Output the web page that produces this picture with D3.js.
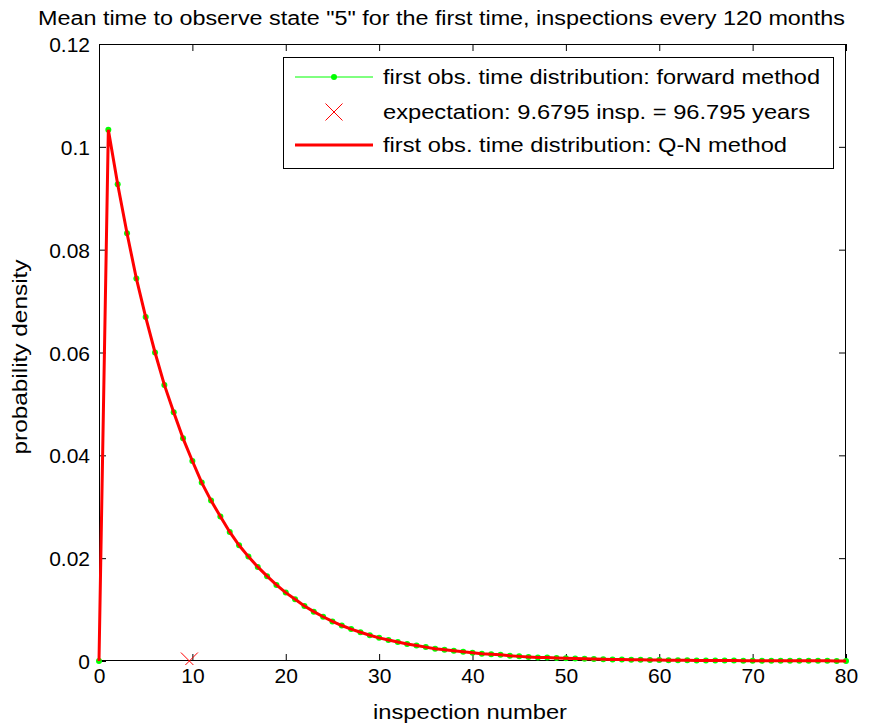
<!DOCTYPE html>
<html>
<head>
<meta charset="utf-8">
<script src="https://cdn.jsdelivr.net/npm/d3@7/dist/d3.min.js"></script>
<style>
  html, body { margin: 0; padding: 0; background: #fff; }
  svg { display: block; }
  text { font-family: "Liberation Sans", Arial, Helvetica, sans-serif; fill: #000; }
</style>
</head>
<body>
<svg id="chart" width="880" height="727"></svg>
<script>
// ---------------- data ----------------
const titleText = 'Mean time to observe state "5" for the first time, inspections every 120 months';
const xLabelText = "inspection number";
const yLabelText = "probability density";
const legendLabels = [
  "first obs. time distribution: forward method",
  "expectation: 9.6795 insp. = 96.795 years",
  "first obs. time distribution: Q-N method"
];
const xTicks = [0, 10, 20, 30, 40, 50, 60, 70, 80];
const xTickLabels = ["0", "10", "20", "30", "40", "50", "60", "70", "80"];
const yTicks = [0, 0.02, 0.04, 0.06, 0.08, 0.1, 0.12];
const yTickLabels = ["0", "0.02", "0.04", "0.06", "0.08", "0.1", "0.12"];

// inspection numbers 0..80
const inspection = [
  0,1,2,3,4,5,6,7,8,9,10,11,12,13,14,15,16,17,18,19,20,
  21,22,23,24,25,26,27,28,29,30,31,32,33,34,35,36,37,38,39,40,
  41,42,43,44,45,46,47,48,49,50,51,52,53,54,55,56,57,58,59,60,
  61,62,63,64,65,66,67,68,69,70,71,72,73,74,75,76,77,78,79,80
];
// forward method density (green)
const forwardDensity = [
  0, 0.1033, 0.0927, 0.0832, 0.0744, 0.0669, 0.0600, 0.0537, 0.0484, 0.0433, 0.0389,
  0.0347, 0.0312, 0.0281, 0.0251, 0.0225, 0.0203, 0.0183, 0.0165, 0.0148, 0.0133,
  0.0120, 0.0107, 0.0096, 0.0086, 0.0077, 0.0069, 0.0062, 0.0056, 0.0050, 0.0045,
  0.0041, 0.0037, 0.0033, 0.0030, 0.0027, 0.0024, 0.0022, 0.0020, 0.0018, 0.0016,
  0.0014, 0.0013, 0.0012, 0.0010, 0.0009, 0.0008, 0.0007, 0.00066, 0.0006, 0.00054,
  0.00048, 0.00043, 0.00039, 0.00035, 0.00031, 0.00028, 0.00025, 0.00023, 0.00020, 0.00018,
  0.00016, 0.00015, 0.00013, 0.00012, 0.00011, 0.0001, 0.00009, 0.00008, 0.00007, 0.00006,
  0.00006, 0.00005, 0.00005, 0.00004, 0.00004, 0.00003, 0.00003, 0.00003, 0.00002, 0.00002
];
// Q-N method density (red)
const qnDensity = [
  0, 0.1033, 0.0927, 0.0832, 0.0744, 0.0669, 0.0600, 0.0537, 0.0484, 0.0433, 0.0389,
  0.0347, 0.0312, 0.0281, 0.0251, 0.0225, 0.0203, 0.0183, 0.0165, 0.0148, 0.0133,
  0.0120, 0.0107, 0.0096, 0.0086, 0.0077, 0.0069, 0.0062, 0.0056, 0.0050, 0.0045,
  0.0041, 0.0037, 0.0033, 0.0030, 0.0027, 0.0024, 0.0022, 0.0020, 0.0018, 0.0016,
  0.0014, 0.0013, 0.0012, 0.0010, 0.0009, 0.0008, 0.0007, 0.00066, 0.0006, 0.00054,
  0.00048, 0.00043, 0.00039, 0.00035, 0.00031, 0.00028, 0.00025, 0.00023, 0.00020, 0.00018,
  0.00016, 0.00015, 0.00013, 0.00012, 0.00011, 0.0001, 0.00009, 0.00008, 0.00007, 0.00006,
  0.00006, 0.00005, 0.00005, 0.00004, 0.00004, 0.00003, 0.00003, 0.00003, 0.00002, 0.00002
];
const expectationX = [9.6795];
const expectationY = [0];

// ---------------- layout ----------------
const svg = d3.select("#chart");
const L = 99, R = 846, T = 44, B = 661;
const x = d3.scaleLinear().domain([0, 80]).range([L, R]);
const y = d3.scaleLinear().domain([0, 0.12]).range([B, T]);

const green = "#00ff00", red = "#ff0000";

// ---------------- axes ----------------
const tickLen = 7;
const fs = 21;
const axB = svg.append("g").attr("transform", `translate(0,${B})`)
  .call(d3.axisBottom(x).tickValues(xTicks).tickFormat((d, i) => xTickLabels[i])
    .tickSizeInner(-tickLen).tickSizeOuter(0).tickPadding(7));
const axT = svg.append("g").attr("transform", `translate(0,${T})`)
  .call(d3.axisTop(x).tickValues(xTicks).tickFormat("").tickSizeInner(-tickLen).tickSizeOuter(0));
const axL = svg.append("g").attr("transform", `translate(${L},0)`)
  .call(d3.axisLeft(y).tickValues(yTicks).tickFormat((d, i) => yTickLabels[i])
    .tickSizeInner(-tickLen).tickSizeOuter(0).tickPadding(9));
const axR = svg.append("g").attr("transform", `translate(${R},0)`)
  .call(d3.axisRight(y).tickValues(yTicks).tickFormat("").tickSizeInner(-tickLen).tickSizeOuter(0));

[axB, axT, axL, axR].forEach(g => {
  g.selectAll(".domain").remove();
  g.selectAll("line").attr("stroke", "#000").attr("stroke-width", 1);
  g.selectAll("text").attr("font-family", "Liberation Sans, Arial, sans-serif")
    .attr("font-size", fs).attr("fill", "#000");
});
axL.selectAll("text").attr("dy", "0.36em");

// box
svg.append("rect").attr("x", L + 0.5).attr("y", T + 0.5)
  .attr("width", R - L - 1).attr("height", B - T - 1)
  .attr("fill", "none").attr("stroke", "#000").attr("stroke-width", 1);

// ---------------- data marks (drawn over axes) ----------------
svg.append("clipPath").attr("id", "clip").append("rect")
  .attr("x", L - 4).attr("y", T).attr("width", R - L + 8).attr("height", B - T + 4);
const plot = svg.append("g").attr("clip-path", "url(#clip)");

const fwd = inspection.map((v, i) => [v, forwardDensity[i]]);
const qn = inspection.map((v, i) => [v, qnDensity[i]]);
const line = d3.line().x(d => x(d[0])).y(d => y(d[1]));

// green forward line + markers
plot.append("path").datum(fwd).attr("d", line)
  .attr("fill", "none").attr("stroke", green).attr("stroke-width", 1);
plot.selectAll("circle.fm").data(fwd).enter().append("circle")
  .attr("class", "fm").attr("cx", d => x(d[0])).attr("cy", d => y(d[1]))
  .attr("r", 3).attr("fill", green);

// expectation X marker
const xm = 8.5;
expectationX.forEach((ex, i) => {
  const cx = x(ex), cy = y(expectationY[i]);
  plot.append("path")
    .attr("d", `M${cx - xm},${cy - xm}L${cx + xm},${cy + xm}M${cx - xm},${cy + xm}L${cx + xm},${cy - xm}`)
    .attr("stroke", red).attr("stroke-width", 1).attr("fill", "none");
});

// red Q-N line
plot.append("path").datum(qn).attr("d", line)
  .attr("fill", "none").attr("stroke", red).attr("stroke-width", 3)
  .attr("stroke-linejoin", "miter");

// ---------------- labels ----------------
svg.append("text").attr("x", 38).attr("y", 25).attr("font-size", 20)
  .attr("textLength", 807).attr("lengthAdjust", "spacingAndGlyphs").text(titleText);
svg.append("text").attr("x", 470).attr("y", 719).attr("font-size", 20)
  .attr("text-anchor", "middle").attr("textLength", 194).attr("lengthAdjust", "spacingAndGlyphs")
  .text(xLabelText);
svg.append("text").attr("transform", "translate(27,357) rotate(-90)").attr("font-size", 20)
  .attr("text-anchor", "middle").attr("textLength", 195).attr("lengthAdjust", "spacingAndGlyphs")
  .text(yLabelText);

// ---------------- legend ----------------
const lg = svg.append("g");
lg.append("rect").attr("x", 283.5).attr("y", 57.5).attr("width", 550).attr("height", 111)
  .attr("fill", "#fff").attr("stroke", "#000").attr("stroke-width", 1);
const rowY = [77, 112, 145];
const textW = [437, 427, 404];
// row 1: green line with marker
lg.append("line").attr("x1", 295).attr("x2", 373).attr("y1", rowY[0]).attr("y2", rowY[0])
  .attr("stroke", green).attr("stroke-width", 1);
lg.append("circle").attr("cx", 334).attr("cy", rowY[0]).attr("r", 3).attr("fill", green);
// row 2: X
lg.append("path")
  .attr("d", `M${334 - xm},${rowY[1] - xm}L${334 + xm},${rowY[1] + xm}M${334 - xm},${rowY[1] + xm}L${334 + xm},${rowY[1] - xm}`)
  .attr("stroke", red).attr("stroke-width", 1).attr("fill", "none");
// row 3: red line
lg.append("line").attr("x1", 295).attr("x2", 373).attr("y1", rowY[2]).attr("y2", rowY[2])
  .attr("stroke", red).attr("stroke-width", 3);
legendLabels.forEach((t, i) => {
  lg.append("text").attr("x", 383).attr("y", rowY[i] + 7).attr("font-size", 20)
    .attr("textLength", textW[i]).attr("lengthAdjust", "spacingAndGlyphs").text(t);
});
</script>
</body>
</html>
